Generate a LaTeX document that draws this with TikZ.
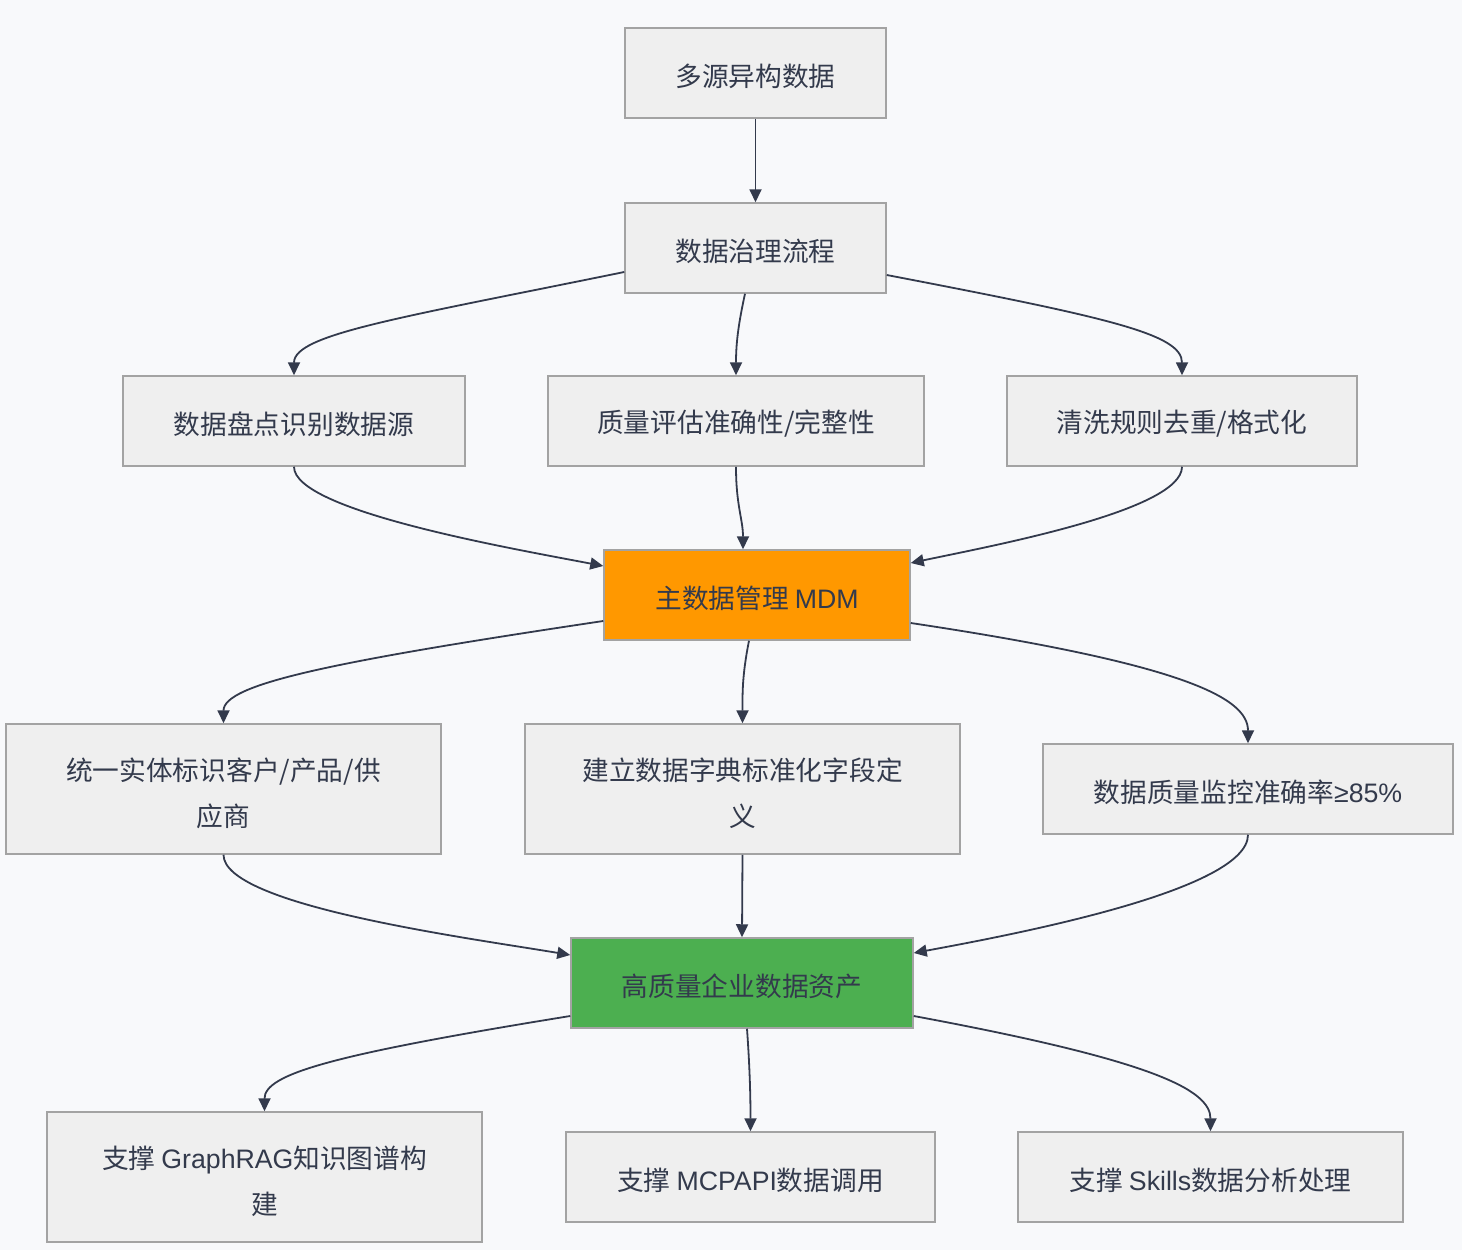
\documentclass[tikz,border=0pt]{standalone}
\usepackage{fontspec}
\setmainfont{Noto Sans CJK SC}
\newfontfamily\lat{Liberation Sans}
\usetikzlibrary{arrows.meta}
\definecolor{bg}{HTML}{F8F9FB}
\definecolor{boxfill}{HTML}{EFEFEF}
\definecolor{boxline}{HTML}{A3A3A3}
\definecolor{ink}{HTML}{333A4C}
\definecolor{mdmorange}{HTML}{FF9800}
\definecolor{assetgreen}{HTML}{4CAF50}
\newcommand{\oneline}[1]{\raisebox{-3pt}[\height][\depth]{#1}}
\newcommand{\twolines}[2]{\raisebox{-5pt}[\height][\depth]{\begin{tabular}{@{}c@{}}#1\\#2\end{tabular}}}
\begin{document}
\begin{tikzpicture}[x=1pt,y=1pt,
  box/.style={draw=boxline, line width=1.5pt, fill=boxfill, text=ink,
    font=\fontsize{26.7}{46}\selectfont, align=center, inner sep=0pt},
  arr/.style={draw=ink, line width=1.8pt, -{Triangle[length=13pt,width=12pt]}}]
\fill[bg] (0,0) rectangle (1462,-1250);
\useasboundingbox (0,0) rectangle (1462,-1250);

\node[box, minimum width=261, minimum height=90] (n1) at (755.5,-73) {\oneline{多源异构数据}};
\node[box, minimum width=261, minimum height=90] (n2) at (755.5,-248) {\oneline{数据治理流程}};
\node[box, minimum width=342, minimum height=90] (n3) at (294,-421) {\oneline{数据盘点识别数据源}};
\node[box, minimum width=376, minimum height=90] (n4) at (736,-421) {\oneline{质量评估准确性/完整性}};
\node[box, minimum width=350, minimum height=90] (n5) at (1182,-421) {\oneline{清洗规则去重/格式化}};
\node[box, fill=mdmorange, minimum width=306, minimum height=90] (n6) at (757,-595) {\oneline{主数据管理 {\lat MDM}}};
\node[box, minimum width=435, minimum height=130] (n7) at (223.5,-789) {\twolines{统一实体标识客户/产品/供}{应商}};
\node[box, minimum width=435, minimum height=130] (n8) at (742.5,-789) {\twolines{建立数据字典标准化字段定}{义}};
\node[box, minimum width=410, minimum height=90] (n9) at (1248,-789) {\oneline{数据质量监控准确率{\lat ≥85\%}}};
\node[box, fill=assetgreen, minimum width=342, minimum height=90] (n10) at (742,-983) {\oneline{高质量企业数据资产}};
\node[box, minimum width=435, minimum height=130] (n11) at (264.5,-1177) {\twolines{支撑 {\lat GraphRAG}知识图谱构}{建}};
\node[box, minimum width=369, minimum height=90] (n12) at (750.5,-1177) {\oneline{支撑 {\lat MCPAPI}数据调用}};
\node[box, minimum width=385, minimum height=90] (n13) at (1210.5,-1177) {\oneline{支撑 {\lat Skills}数据分析处理}};

\draw[arr] (n1.south) -- (n2.north);
\draw[arr] ([yshift=-24pt]n2.west) .. controls +(-225,-46) and +(0,41) .. (n3.north);
\draw[arr] ([xshift=-10.5pt]n2.south) .. controls +(-7,-32) and +(0,31) .. (n4.north);
\draw[arr] ([yshift=-27pt]n2.east) .. controls +(224,-43) and +(0,41) .. (n5.north);

\draw[arr] (n3.south) .. controls +(0,-44) and +(-94,18) .. ([yshift=29pt]n6.west);
\draw[arr] (n4.south) .. controls +(0,-39) and +(0,30) .. ([xshift=-14pt]n6.north);
\draw[arr] (n5.south) .. controls +(0,-44) and +(80,17) .. ([yshift=32pt]n6.east);

\draw[arr] ([yshift=-26pt]n6.west) .. controls +(-274,-41) and +(0,39) .. (n7.north);
\draw[arr] ([xshift=-8pt]n6.south) .. controls +(-7,-35) and +(0,29) .. (n8.north);
\draw[arr] ([yshift=-28pt]n6.east) .. controls +(280,-42) and +(0,44) .. (n9.north);

\draw[arr] (n7.south) .. controls +(0,-51) and +(-101,17) .. ([yshift=28pt]n10.west);
\draw[arr] (n8.south) -- (n10.north);
\draw[arr] (n9.south) .. controls +(0,-56) and +(97,18) .. ([yshift=30pt]n10.east);

\draw[arr] ([yshift=-33pt]n10.west) .. controls +(-241,-39) and +(0,37) .. (n11.north);
\draw[arr] ([xshift=5pt]n10.south) .. controls +(3,-42) and +(0,32) .. (n12.north);
\draw[arr] ([yshift=-33pt]n10.east) .. controls +(237,-44) and +(0,42) .. (n13.north);
\end{tikzpicture}
\end{document}
